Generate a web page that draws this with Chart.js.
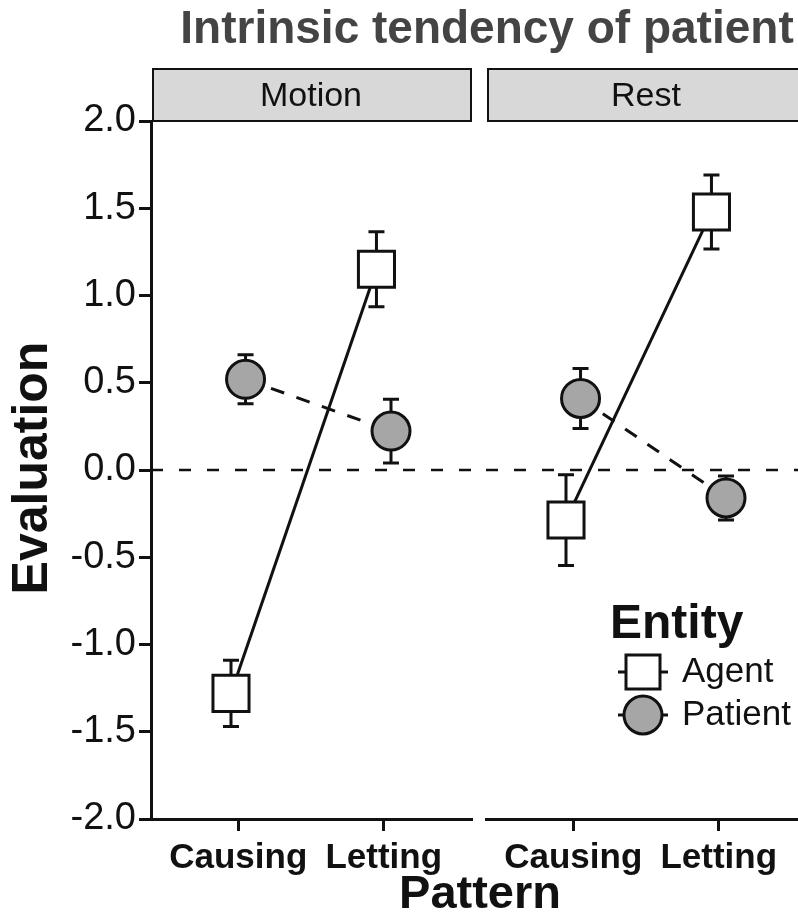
<!DOCTYPE html>
<html>
<head>
<meta charset="utf-8">
<script src="https://cdn.jsdelivr.net/npm/chart.js@4.4.1/dist/chart.umd.min.js"></script>
<style>
html, body { margin: 0; padding: 0; background: #fff; overflow: hidden; }
#wrap { position: relative; width: 798px; height: 920px; overflow: hidden; }
#motion { position: absolute; left: 0; top: 0; }
#rest { position: absolute; left: 386px; top: 0; }
</style>
</head>
<body>
<div id="wrap">
  <canvas id="motion" width="798" height="920"></canvas>
  <canvas id="rest" width="520" height="920"></canvas>
</div>
<script>
// data (means and standard errors)
var categories = ['Causing', 'Letting'];
var panels = ['Motion', 'Rest'];
var entities = ['Agent', 'Patient'];

var agentMotion = [-1.28, 1.15];
var agentMotionSE = [0.19, 0.215];
var patientMotion = [0.52, 0.223];
var patientMotionSE = [0.14, 0.183];

var agentRest = [-0.287, 1.478];
var agentRestSE = [0.26, 0.212];
var patientRest = [0.41, -0.16];
var patientRestSE = [0.172, 0.126];

var ink = '#111';
var family = "'Liberation Sans', Arial, sans-serif";
var dodge = 0.05;

function points(values, shift) {
    return values.map(function (v, i) {
        return { x: i + shift, y: v };
    });
}

function makeDatasets(agent, agentSE, patient, patientSE) {
    return [{
        label: entities[0],
        data: points(agent, -dodge),
        errors: agentSE,
        showLine: true,
        borderColor: ink,
        borderWidth: 3,
        pointStyle: 'rect',
        pointRadius: 25.5,
        pointBackgroundColor: '#fff',
        pointBorderColor: ink,
        pointBorderWidth: 3
    }, {
        label: entities[1],
        data: points(patient, dodge),
        errors: patientSE,
        showLine: true,
        borderColor: ink,
        borderWidth: 3,
        borderDash: [14, 13],
        pointStyle: 'circle',
        pointRadius: 19,
        pointBackgroundColor: '#a6a6a6',
        pointBorderColor: ink,
        pointBorderWidth: 3
    }];
}

// zero line, error bars and the strip on top of each panel
var facetPlugin = {
    id: 'facet',
    beforeDatasetsDraw: function (chart) {
        var ctx = chart.ctx, area = chart.chartArea, y = chart.scales.y;
        ctx.save();
        ctx.strokeStyle = ink;
        ctx.lineWidth = 2.7;
        ctx.setLineDash([12, 16]);
        ctx.beginPath();
        ctx.moveTo(area.left, y.getPixelForValue(0));
        ctx.lineTo(area.right, y.getPixelForValue(0));
        ctx.stroke();
        ctx.setLineDash([]);
        ctx.lineWidth = 3;
        chart.data.datasets.forEach(function (ds, i) {
            var meta = chart.getDatasetMeta(i);
            ds.errors.forEach(function (se, j) {
                var px = meta.data[j].x, v = ds.data[j].y;
                var top = y.getPixelForValue(v + se), bot = y.getPixelForValue(v - se);
                ctx.beginPath();
                ctx.moveTo(px, top); ctx.lineTo(px, bot);
                ctx.moveTo(px - 8, top); ctx.lineTo(px + 8, top);
                ctx.moveTo(px - 8, bot); ctx.lineTo(px + 8, bot);
                ctx.stroke();
            });
        });
        ctx.restore();
    },
    afterDraw: function (chart, args, opts) {
        var ctx = chart.ctx, area = chart.chartArea;
        ctx.save();
        ctx.fillStyle = '#d8d8d8';
        ctx.fillRect(area.left + 2, 69, area.width - 2, 52);
        ctx.strokeStyle = ink;
        ctx.lineWidth = 2;
        ctx.strokeRect(area.left + 2, 69, area.width - 2, 52);
        ctx.fillStyle = ink;
        ctx.font = '34px ' + family;
        ctx.textAlign = 'center';
        ctx.textBaseline = 'middle';
        ctx.fillText(opts.label, (area.left + area.right) / 2, 97);
        ctx.restore();
    }
};

// figure title and axis titles, drawn once on the left canvas
var titlesPlugin = {
    id: 'titles',
    afterDraw: function (chart) {
        var ctx = chart.ctx;
        ctx.save();
        ctx.textAlign = 'center';
        ctx.textBaseline = 'middle';
        ctx.fillStyle = '#444';
        ctx.font = 'bold 46px ' + family;
        ctx.fillText('Intrinsic tendency of patient', 487, 30);
        ctx.fillStyle = ink;
        ctx.font = 'bold 47px ' + family;
        ctx.fillText('Pattern', 480, 895);
        ctx.font = 'bold 50px ' + family;
        ctx.translate(33, 468);
        ctx.rotate(-Math.PI / 2);
        ctx.fillText('Evaluation', 0, 0);
        ctx.restore();
    }
};

// legend sits inside the right panel
var legendPlugin = {
    id: 'entityLegend',
    afterDraw: function (chart) {
        var ctx = chart.ctx, x0 = chart.chartArea.left;
        var kx = x0 + 157;
        ctx.save();
        ctx.fillStyle = ink;
        ctx.textBaseline = 'middle';
        ctx.font = 'bold 48px ' + family;
        ctx.fillText('Entity', x0 + 124, 625);
        ctx.font = '35px ' + family;
        ctx.fillText(entities[0], x0 + 196, 672);
        ctx.fillText(entities[1], x0 + 196, 715);
        ctx.strokeStyle = ink;
        ctx.lineWidth = 3;
        ctx.beginPath();
        ctx.moveTo(kx - 25, 672); ctx.lineTo(kx + 25, 672);
        ctx.stroke();
        ctx.setLineDash([8, 6]);
        ctx.beginPath();
        ctx.moveTo(kx - 25, 715); ctx.lineTo(kx + 25, 715);
        ctx.stroke();
        ctx.setLineDash([]);
        ctx.fillStyle = '#fff';
        ctx.fillRect(kx - 17, 655, 34, 34);
        ctx.strokeRect(kx - 17, 655, 34, 34);
        ctx.fillStyle = '#a6a6a6';
        ctx.beginPath();
        ctx.arc(kx, 715, 19, 0, Math.PI * 2);
        ctx.fill();
        ctx.stroke();
        ctx.restore();
    }
};

function axisGrid() {
    return { drawOnChartArea: false, color: ink, lineWidth: 3, tickLength: 12 };
}

// showY: draw the y axis; yWidth: room reserved left of the panel
function makeOptions(label, showY, yWidth, padRight) {
    return {
        responsive: false,
        animation: false,
        events: [],
        layout: { padding: { top: 121, left: 0, right: padRight, bottom: 0 } },
        scales: {
            x: {
                type: 'linear',
                min: -0.6,
                max: 1.6,
                afterBuildTicks: function (scale) {
                    scale.ticks = categories.map(function (c, i) { return { value: i }; });
                },
                afterFit: function (scale) { scale.height = 101; },
                grid: axisGrid(),
                border: { color: ink, width: 3 },
                ticks: {
                    autoSkip: false,
                    maxRotation: 0,
                    padding: 6,
                    color: ink,
                    font: { family: family, size: 35, weight: 'bold' },
                    callback: function (v) { return categories[v]; }
                }
            },
            y: {
                min: -2,
                max: 2,
                afterFit: function (scale) { scale.width = yWidth; },
                grid: showY ? axisGrid() : { display: false },
                border: { display: showY, color: ink, width: 3 },
                ticks: {
                    display: showY,
                    stepSize: 0.5,
                    padding: 3,
                    color: ink,
                    font: { family: family, size: 38 },
                    callback: function (v) { return v.toFixed(1); }
                }
            }
        },
        plugins: {
            legend: { display: false },
            tooltip: { enabled: false },
            facet: { label: label }
        }
    };
}

var motionChart = new Chart(document.getElementById('motion').getContext('2d'), {
    type: 'scatter',
    data: { datasets: makeDatasets(agentMotion, agentMotionSE, patientMotion, patientMotionSE) },
    options: makeOptions(panels[0], true, 151, 798 - 471),
    plugins: [facetPlugin, titlesPlugin]
});

var restChart = new Chart(document.getElementById('rest').getContext('2d'), {
    type: 'scatter',
    data: { datasets: makeDatasets(agentRest, agentRestSE, patientRest, patientRestSE) },
    options: makeOptions(panels[1], false, 100, 100),
    plugins: [facetPlugin, legendPlugin]
});
</script>
</body>
</html>
